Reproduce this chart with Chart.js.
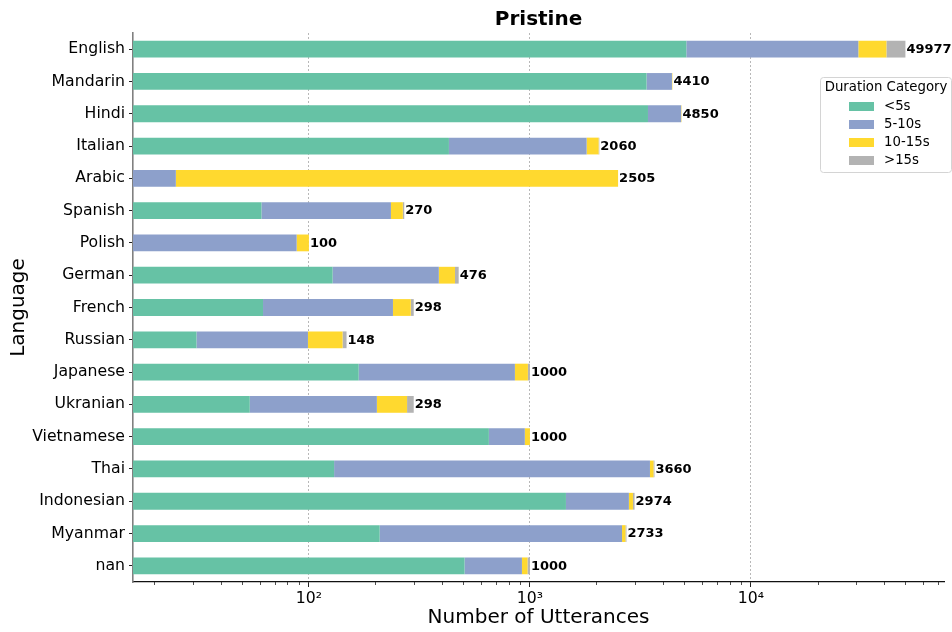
<!DOCTYPE html>
<html>
<head>
<meta charset="utf-8">
<script src="https://cdn.jsdelivr.net/npm/chart.js@4.4.1/dist/chart.umd.min.js"></script>
<style>
  html, body { margin: 0; padding: 0; background: #ffffff; }
  #wrap { width: 952px; height: 632px; }
</style>
</head>
<body>
<div id="wrap"><canvas id="chart" width="952" height="632"></canvas></div>
<script>
// Languages, top to bottom
const languages = ['English', 'Mandarin', 'Hindi', 'Italian', 'Arabic', 'Spanish', 'Polish',
  'German', 'French', 'Russian', 'Japanese', 'Ukranian', 'Vietnamese', 'Thai',
  'Indonesian', 'Myanmar', 'nan'];

// Utterance counts per duration bucket
const under5s   = [5100, 3370, 3420, 430, 0, 61, 0, 128, 62, 31, 168, 54, 652, 130, 1455, 209, 506];
const from5to10 = [25500, 1020, 1410, 1375, 25, 174, 88, 259, 178, 68, 687, 149, 296, 3361, 1348, 2401, 414];
const from10to15 = [10400, 20, 20, 240, 2480, 31, 12, 71, 49, 43, 124, 75, 52, 131, 121, 95, 55];
const over15s   = [8977, 0, 0, 15, 0, 4, 0, 18, 9, 6, 21, 20, 0, 38, 50, 28, 25];

const bucketLabels = ['<5s', '5-10s', '10-15s', '>15s'];
const bucketColors = ['#66c2a5', '#8da0cb', '#ffd92f', '#b3b3b3'];

const FONT = "'DejaVu Sans', sans-serif";
const X_MIN = 16, X_MAX = 74700;

const isPow10 = v => Math.abs(Math.log10(v) - Math.round(Math.log10(v))) < 1e-9;
const SUP = {'0':'⁰','1':'¹','2':'²','3':'³','4':'⁴','5':'⁵','6':'⁶','7':'⁷','8':'⁸','9':'⁹'};

// log ticks at 1..9 x 10^k inside the axis range
function logTickValues(min, max) {
  const out = [];
  for (let e = Math.floor(Math.log10(min)); e <= Math.ceil(Math.log10(max)); e++) {
    for (let k = 1; k <= 9; k++) {
      const v = k * Math.pow(10, e);
      if (v >= min && v <= max) out.push({ value: v, major: k === 1 });
    }
  }
  return out;
}

// short minor tick marks under the x axis
const minorTicks = {
  id: 'minorTicks',
  afterDraw(chart) {
    const xs = chart.scales.x, ctx = chart.ctx;
    ctx.save();
    ctx.strokeStyle = '#222';
    ctx.lineWidth = 0.8;
    xs.ticks.forEach(t => {
      if (isPow10(t.value)) return;
      const px = Math.round(xs.getPixelForValue(t.value)) + 0.5;
      ctx.beginPath();
      ctx.moveTo(px, xs.top);
      ctx.lineTo(px, xs.top + 3);
      ctx.stroke();
    });
    ctx.restore();
  }
};

// total count printed at the end of each stacked bar
const totalLabels = {
  id: 'totalLabels',
  afterDatasetsDraw(chart) {
    const xs = chart.scales.x, ys = chart.scales.y, ctx = chart.ctx;
    ctx.save();
    ctx.font = "bold 13px " + FONT;
    ctx.fillStyle = '#000';
    ctx.textAlign = 'left';
    ctx.textBaseline = 'middle';
    languages.forEach((lang, i) => {
      const total = under5s[i] + from5to10[i] + from10to15[i] + over15s[i];
      const x = xs.getPixelForValue(total) + 1;
      const y = ys.getPixelForValue(i);
      ctx.fillText(String(total), x, y + 0.5);
    });
    ctx.restore();
  }
};

// boxed legend with a title, top right
const boxLegend = {
  id: 'boxLegend',
  afterDraw(chart) {
    const ctx = chart.ctx;
    const bx = 820.5, by = 77.5, bw = 131, bh = 95, r = 3;
    ctx.save();
    ctx.beginPath();
    ctx.moveTo(bx + r, by);
    ctx.lineTo(bx + bw - r, by);
    ctx.quadraticCurveTo(bx + bw, by, bx + bw, by + r);
    ctx.lineTo(bx + bw, by + bh - r);
    ctx.quadraticCurveTo(bx + bw, by + bh, bx + bw - r, by + bh);
    ctx.lineTo(bx + r, by + bh);
    ctx.quadraticCurveTo(bx, by + bh, bx, by + bh - r);
    ctx.lineTo(bx, by + r);
    ctx.quadraticCurveTo(bx, by, bx + r, by);
    ctx.closePath();
    ctx.fillStyle = 'rgba(255,255,255,0.85)';
    ctx.fill();
    ctx.strokeStyle = '#d4d4d4';
    ctx.lineWidth = 1;
    ctx.stroke();

    ctx.font = "13.3px " + FONT;
    ctx.fillStyle = '#000';
    ctx.textBaseline = 'middle';
    ctx.textAlign = 'center';
    ctx.fillText('Duration Category', bx + bw / 2, 88);

    ctx.textAlign = 'left';
    chart.data.datasets.forEach((ds, i) => {
      const cy = 106.5 + i * 18;
      ctx.fillStyle = ds.backgroundColor;
      ctx.fillRect(849, cy - 4.5, 25, 9);
      ctx.fillStyle = '#000';
      ctx.fillText(ds.label, 884, cy);
    });
    ctx.restore();
  }
};

const seriesValues = [under5s, from5to10, from10to15, over15s];

new Chart(document.getElementById('chart'), {
  type: 'bar',
  data: {
    labels: languages,
    datasets: seriesValues.map((vals, i) => ({
      label: bucketLabels[i],
      data: vals,
      backgroundColor: bucketColors[i],
      borderWidth: 0,
      barPercentage: 0.52,
      categoryPercentage: 1.0
    }))
  },
  options: {
    indexAxis: 'y',
    responsive: false,
    animation: false,
    devicePixelRatio: 1,
    layout: { padding: { left: 0, right: 8, top: 0, bottom: 0 } },
    plugins: {
      legend: { display: false },
      tooltip: { enabled: false },
      title: {
        display: true,
        fullSize: false,
        text: 'Pristine',
        color: '#000',
        font: { family: FONT, size: 20, weight: 'bold', lineHeight: 1.2 },
        padding: { top: 8, bottom: 1 }
      }
    },
    scales: {
      x: {
        type: 'logarithmic',
        stacked: true,
        min: X_MIN,
        max: X_MAX,
        afterBuildTicks: s => { s.ticks = logTickValues(X_MIN, X_MAX); },
        afterFit: s => { s.height = 50; },
        grid: {
          drawOnChartArea: true,
          drawTicks: true,
          tickLength: 5,
          color: c => (c.tick && isPow10(c.tick.value)) ? '#b8b8b8' : 'rgba(0,0,0,0)',
          tickColor: c => (c.tick && isPow10(c.tick.value)) ? '#222' : 'rgba(0,0,0,0)',
          lineWidth: 1,
          tickWidth: 1
        },
        border: { display: true, color: '#111', width: 1.2, dash: [2, 2] },
        ticks: {
          autoSkip: false,
          maxRotation: 0,
          padding: 3,
          color: '#000',
          font: { family: FONT, size: 15.7 },
          callback: v => isPow10(v) ? '10' + String(Math.round(Math.log10(v))).split('').map(d => SUP[d]).join('') : ''
        },
        title: {
          display: true,
          text: 'Number of Utterances',
          color: '#000',
          font: { family: FONT, size: 20, lineHeight: 1.2 },
          padding: { top: 0, bottom: 2 }
        }
      },
      y: {
        stacked: true,
        afterFit: s => { s.width = 133; },
        grid: {
          offset: false,
          drawOnChartArea: false,
          drawTicks: true,
          tickLength: 4,
          tickColor: '#222',
          tickWidth: 1
        },
        border: { display: true, color: '#808080', width: 1.6 },
        ticks: {
          padding: 4,
          color: '#000',
          font: { family: FONT, size: 15.7 }
        },
        title: {
          display: true,
          text: 'Language',
          color: '#000',
          font: { family: FONT, size: 20, lineHeight: 1.2 },
          padding: { top: 6.5, bottom: 0 }
        }
      }
    }
  },
  plugins: [minorTicks, totalLabels, boxLegend]
});
</script>
</body>
</html>
